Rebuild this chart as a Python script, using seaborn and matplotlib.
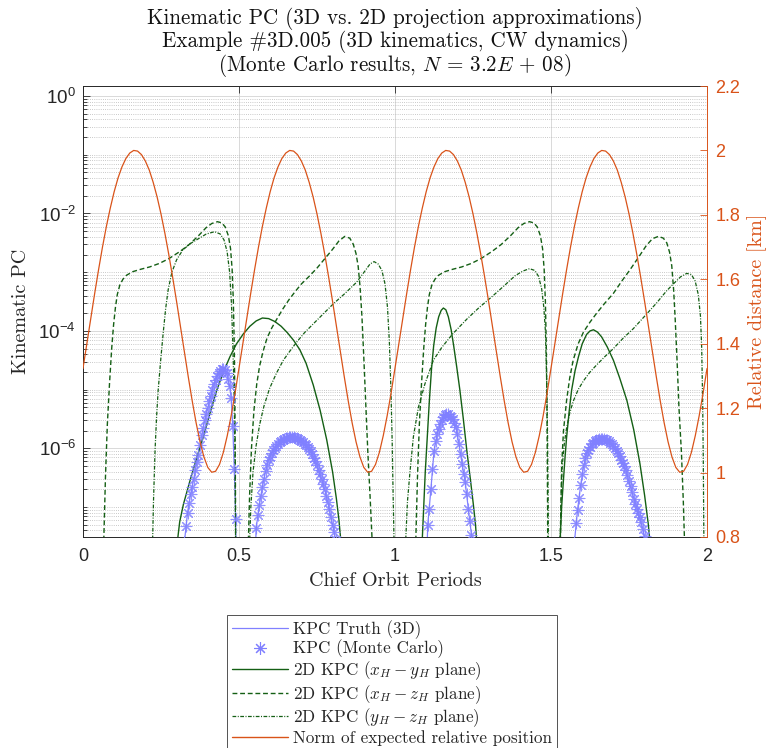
import numpy as np
import pandas as pd
import matplotlib
matplotlib.use("Agg")
import matplotlib.pyplot as plt
import seaborn as sns
from matplotlib.lines import Line2D
from matplotlib.ticker import FixedLocator, FuncFormatter, LogLocator, NullFormatter

# ---------------------------------------------------------------- data
# 2D KPC, x_H - y_H plane (solid), log10 values per active window
xy_t = [
    [0.296, 0.300, 0.310, 0.322, 0.343, 0.365, 0.386, 0.407, 0.428, 0.450, 0.471, 0.492, 0.514, 0.535,
     0.555, 0.575, 0.595, 0.615, 0.635, 0.655, 0.675, 0.695, 0.715, 0.738, 0.760, 0.781, 0.800, 0.812,
     0.820, 0.826, 0.830],
    [1.084, 1.087, 1.092, 1.097, 1.103, 1.110, 1.117, 1.124, 1.132, 1.140, 1.148, 1.155, 1.163, 1.171,
     1.180, 1.188, 1.198, 1.208, 1.219, 1.230, 1.241, 1.251, 1.258, 1.262, 1.266],
    [1.526, 1.529, 1.534, 1.539, 1.545, 1.550, 1.558, 1.566, 1.577, 1.588, 1.600, 1.614, 1.625, 1.636,
     1.649, 1.662, 1.680, 1.700, 1.720, 1.743, 1.765, 1.785, 1.800, 1.812, 1.817, 1.822],
]
xy_log = [
    [-9.0, -7.7, -7.25, -6.95, -6.55, -6.15, -5.80, -5.40, -5.02, -4.70, -4.44, -4.22, -4.05, -3.92,
     -3.83, -3.78, -3.79, -3.84, -3.92, -4.03, -4.16, -4.32, -4.55, -4.92, -5.35, -5.85, -6.4, -6.85,
     -7.2, -7.55, -9.0],
    [-9.0, -7.6, -7.0, -6.4, -5.85, -5.2, -4.65, -4.25, -3.95, -3.76, -3.65, -3.61, -3.64, -3.76,
     -3.98, -4.25, -4.62, -5.01, -5.5, -6.03, -6.5, -6.95, -7.3, -7.6, -9.0],
    [-9.0, -7.6, -7.0, -6.6, -6.15, -5.81, -5.38, -5.01, -4.68, -4.44, -4.22, -4.06, -4.00, -3.98,
     -4.02, -4.10, -4.27, -4.50, -4.80, -5.18, -5.68, -6.26, -6.8, -7.3, -7.6, -9.0],
]

# 2D KPC, x_H - z_H plane (dashed)
xz_t = [
    [0.064, 0.067, 0.072, 0.078, 0.085, 0.092, 0.098, 0.104, 0.110, 0.118, 0.128, 0.140, 0.160, 0.185,
     0.214, 0.245, 0.275, 0.310, 0.340, 0.370, 0.395, 0.413, 0.431, 0.445, 0.456, 0.466, 0.473, 0.478,
     0.482, 0.485, 0.487, 0.489, 0.490],
    [0.527, 0.530, 0.534, 0.540, 0.548, 0.557, 0.566, 0.577, 0.590, 0.605, 0.620, 0.640, 0.660, 0.680,
     0.700, 0.725, 0.750, 0.775, 0.800, 0.820, 0.839, 0.855, 0.866, 0.875, 0.882, 0.888, 0.894, 0.900,
     0.906, 0.913, 0.920, 0.927, 0.930],
    [1.064, 1.067, 1.072, 1.078, 1.085, 1.092, 1.098, 1.104, 1.110, 1.118, 1.128, 1.140, 1.160, 1.185,
     1.214, 1.245, 1.275, 1.310, 1.340, 1.370, 1.395, 1.413, 1.431, 1.445, 1.456, 1.466, 1.473, 1.478,
     1.482, 1.485, 1.487, 1.489, 1.490],
    [1.527, 1.530, 1.534, 1.540, 1.550, 1.560, 1.571, 1.587, 1.604, 1.625, 1.646, 1.672, 1.700, 1.727,
     1.753, 1.780, 1.805, 1.825, 1.844, 1.860, 1.871, 1.880, 1.887, 1.893, 1.898, 1.904, 1.910, 1.918,
     1.924, 1.928, 1.931],
]
xz_log = [
    [-9.0, -7.5, -6.5, -5.6, -4.9, -4.3, -3.9, -3.6, -3.38, -3.22, -3.12, -3.05, -2.99, -2.95,
     -2.91, -2.85, -2.77, -2.65, -2.53, -2.38, -2.24, -2.17, -2.14, -2.16, -2.23, -2.38, -2.6, -2.95,
     -3.5, -4.3, -5.3, -7.0, -9.0],
    [-9.0, -7.6, -6.8, -6.0, -5.35, -4.9, -4.6, -4.35, -4.12, -3.95, -3.81, -3.63, -3.47, -3.33,
     -3.20, -3.07, -2.93, -2.77, -2.61, -2.47, -2.39, -2.42, -2.52, -2.68, -2.90, -3.25, -3.75, -4.45,
     -5.2, -6.07, -6.8, -7.6, -9.0],
    [-9.0, -7.5, -6.5, -5.6, -4.9, -4.3, -3.9, -3.6, -3.38, -3.22, -3.12, -3.05, -2.99, -2.95,
     -2.91, -2.85, -2.77, -2.65, -2.53, -2.38, -2.24, -2.17, -2.14, -2.16, -2.23, -2.38, -2.6, -2.95,
     -3.5, -4.3, -5.3, -7.0, -9.0],
    [-9.0, -7.6, -6.3, -5.7, -5.18, -4.8, -4.5, -4.22, -4.02, -3.85, -3.70, -3.53, -3.36, -3.15,
     -2.96, -2.75, -2.55, -2.43, -2.39, -2.42, -2.50, -2.66, -2.89, -3.3, -3.8, -4.5, -5.3, -6.07,
     -6.9, -7.6, -9.0],
]

# 2D KPC, y_H - z_H plane (dash-dot)
yz_t = [
    [0.220, 0.223, 0.226, 0.231, 0.236, 0.241, 0.249, 0.257, 0.265, 0.273, 0.285, 0.300, 0.320, 0.345,
     0.370, 0.395, 0.422, 0.440, 0.452, 0.462, 0.470, 0.476, 0.480, 0.484, 0.487, 0.489, 0.490],
    [0.531, 0.534, 0.538, 0.545, 0.555, 0.566, 0.580, 0.598, 0.620, 0.642, 0.665, 0.685, 0.710, 0.738,
     0.770, 0.802, 0.840, 0.877, 0.905, 0.920, 0.933, 0.946, 0.958, 0.968, 0.976, 0.982, 0.987, 0.991,
     0.994, 0.997, 0.999],
    [1.030, 1.034, 1.040, 1.048, 1.059, 1.075, 1.096, 1.123, 1.150, 1.185, 1.230, 1.270, 1.310, 1.350,
     1.385, 1.410, 1.431, 1.448, 1.460, 1.470, 1.477, 1.482, 1.486, 1.489, 1.491, 1.493],
    [1.526, 1.529, 1.532, 1.536, 1.543, 1.550, 1.560, 1.571, 1.587, 1.604, 1.625, 1.646, 1.672, 1.700,
     1.730, 1.764, 1.800, 1.839, 1.870, 1.892, 1.915, 1.935, 1.950, 1.962, 1.972, 1.979, 1.983, 1.986,
     1.988, 1.990, 1.992],
]
yz_log = [
    [-9.0, -7.6, -6.9, -6.03, -5.45, -5.01, -4.5, -4.04, -3.62, -3.30, -3.0, -2.79, -2.62, -2.51,
     -2.43, -2.35, -2.31, -2.35, -2.45, -2.65, -3.0, -3.55, -4.2, -5.0, -6.0, -7.5, -9.0],
    [-9.0, -7.6, -7.0, -6.4, -5.95, -5.6, -5.28, -4.98, -4.72, -4.50, -4.33, -4.19, -4.03, -3.88,
     -3.71, -3.54, -3.36, -3.17, -2.97, -2.86, -2.82, -2.86, -2.97, -3.2, -3.6, -4.2, -5.0, -5.9,
     -6.8, -7.6, -9.0],
    [-9.0, -7.6, -6.9, -6.4, -5.8, -5.3, -4.9, -4.5, -4.28, -4.05, -3.8, -3.6, -3.42, -3.23,
     -3.06, -2.98, -2.94, -2.97, -3.07, -3.28, -3.6, -4.0, -4.8, -5.8, -7.0, -9.0],
    [-9.0, -7.6, -6.9, -6.3, -5.9, -5.65, -5.4, -5.2, -5.0, -4.85, -4.7, -4.58, -4.44, -4.3,
     -4.13, -3.96, -3.75, -3.52, -3.32, -3.2, -3.08, -3.02, -3.04, -3.15, -3.38, -3.75, -4.3, -5.2,
     -6.2, -7.6, -9.0],
]

# Truth 3D KPC (thin line)
truth_t = [
    [0.318, 0.325, 0.335, 0.345, 0.355, 0.365, 0.375, 0.385, 0.395, 0.405, 0.415, 0.425, 0.435, 0.445,
     0.450, 0.455, 0.460, 0.465, 0.470, 0.475, 0.480, 0.485, 0.488, 0.490, 0.491],
    [0.548, 0.555, 0.565, 0.575, 0.585, 0.595, 0.610, 0.630, 0.650, 0.670, 0.690, 0.710, 0.730, 0.750,
     0.770, 0.785, 0.800, 0.810, 0.818],
    [1.098, 1.105, 1.115, 1.125, 1.135, 1.145, 1.155, 1.165, 1.175, 1.185, 1.195, 1.205, 1.215, 1.225,
     1.235, 1.245, 1.252],
    [1.570, 1.575, 1.585, 1.595, 1.605, 1.615, 1.630, 1.650, 1.665, 1.680, 1.700, 1.720, 1.740, 1.760,
     1.780, 1.795, 1.805, 1.812],
]
truth_log = [
    [-8.2, -7.6, -7.10, -6.78, -6.52, -6.24, -5.95, -5.65, -5.42, -5.20, -5.00, -4.84, -4.72, -4.65,
     -4.64, -4.66, -4.72, -4.82, -4.93, -5.15, -5.62, -6.35, -6.9, -7.5, -9.0],
    [-8.5, -7.36, -6.97, -6.66, -6.39, -6.20, -6.03, -5.89, -5.83, -5.81, -5.84, -5.92, -6.05, -6.28,
     -6.60, -6.92, -7.30, -7.56, -8.5],
    [-8.5, -7.3, -6.70, -6.05, -5.76, -5.59, -5.47, -5.41, -5.44, -5.50, -5.63, -5.92, -6.26, -6.57,
     -7.03, -7.47, -8.5],
    [-8.5, -7.6, -7.05, -6.63, -6.29, -6.08, -5.92, -5.85, -5.84, -5.86, -5.96, -6.13, -6.37, -6.75,
     -7.10, -7.38, -7.65, -8.5],
]

# Monte Carlo KPC estimates, sampled every 0.005 orbit periods in each window
mc_window = [(0.325, 0.490), (0.555, 0.810), (1.105, 1.250), (1.575, 1.805)]
mc_log = [
    [-7.6, -7.33, -7.10, -6.93, -6.78, -6.66, -6.52, -6.36, -6.24, -6.12, -5.95, -5.78, -5.65, -5.52,
     -5.42, -5.31, -5.20, -5.10, -5.00, -4.91, -4.84, -4.77, -4.72, -4.68, -4.65, -4.64, -4.66, -4.72,
     -4.82, -4.93, -5.15, -5.62, -6.35, -7.2],
    [-7.36, -7.14, -6.97, -6.81, -6.66, -6.52, -6.39, -6.29, -6.20, -6.14, -6.08, -6.03, -5.99, -5.96,
     -5.92, -5.89, -5.87, -5.86, -5.84, -5.83, -5.82, -5.81, -5.81, -5.81, -5.81, -5.82, -5.83, -5.84,
     -5.85, -5.87, -5.89, -5.92, -5.95, -5.98, -6.01, -6.05, -6.10, -6.16, -6.22, -6.28, -6.36, -6.44,
     -6.52, -6.60, -6.70, -6.81, -6.92, -7.04, -7.17, -7.30, -7.42, -7.56],
    [-7.3, -7.03, -6.70, -6.35, -6.05, -5.88, -5.76, -5.67, -5.59, -5.52, -5.47, -5.43, -5.41, -5.42,
     -5.44, -5.47, -5.50, -5.56, -5.63, -5.76, -5.92, -6.09, -6.26, -6.43, -6.57, -6.78, -7.03, -7.23,
     -7.47, -7.8],
    [-7.6, -7.27, -7.05, -6.85, -6.63, -6.43, -6.29, -6.17, -6.08, -6.02, -5.97, -5.92, -5.90, -5.88,
     -5.86, -5.85, -5.84, -5.84, -5.84, -5.84, -5.85, -5.86, -5.88, -5.90, -5.92, -5.96, -6.00, -6.04,
     -6.08, -6.13, -6.19, -6.25, -6.30, -6.37, -6.46, -6.55, -6.64, -6.75, -6.86, -6.95, -7.03, -7.10,
     -7.17, -7.26, -7.38, -7.50, -7.65],
]

# Norm of the expected relative position [km], every 0.0125 orbit periods over 0..2
rel_dist = [
    1.323, 1.401, 1.479, 1.556, 1.630, 1.700, 1.764, 1.821, 1.872, 1.915, 1.949, 1.975, 1.992, 2.000,
    1.998, 1.987, 1.967, 1.939, 1.901, 1.856, 1.803, 1.743, 1.677, 1.606, 1.531, 1.453, 1.375, 1.297,
    1.223, 1.155, 1.096, 1.049, 1.016, 1.001, 1.004, 1.025, 1.063, 1.115, 1.177, 1.247,
    1.323, 1.401, 1.479, 1.556, 1.630, 1.700, 1.764, 1.821, 1.872, 1.915, 1.949, 1.975, 1.992, 2.000,
    1.998, 1.987, 1.967, 1.939, 1.901, 1.856, 1.803, 1.743, 1.677, 1.606, 1.531, 1.453, 1.375, 1.297,
    1.223, 1.155, 1.096, 1.049, 1.016, 1.001, 1.004, 1.025, 1.063, 1.115, 1.177, 1.247,
    1.323, 1.401, 1.479, 1.556, 1.630, 1.700, 1.764, 1.821, 1.872, 1.915, 1.949, 1.975, 1.992, 2.000,
    1.998, 1.987, 1.967, 1.939, 1.901, 1.856, 1.803, 1.743, 1.677, 1.606, 1.531, 1.453, 1.375, 1.297,
    1.223, 1.155, 1.096, 1.049, 1.016, 1.001, 1.004, 1.025, 1.063, 1.115, 1.177, 1.247,
    1.323, 1.401, 1.479, 1.556, 1.630, 1.700, 1.764, 1.821, 1.872, 1.915, 1.949, 1.975, 1.992, 2.000,
    1.998, 1.987, 1.967, 1.939, 1.901, 1.856, 1.803, 1.743, 1.677, 1.606, 1.531, 1.453, 1.375, 1.297,
    1.223, 1.155, 1.096, 1.049, 1.016, 1.001, 1.004, 1.025, 1.063, 1.115, 1.177, 1.247,
    1.323,
]

x_ticks = [0, 0.5, 1, 1.5, 2]
x_tick_labels = ["0", "0.5", "1", "1.5", "2"]
y_ticks = [1e-6, 1e-4, 1e-2, 1e0]
r_ticks = [0.8, 1.0, 1.2, 1.4, 1.6, 1.8, 2.0, 2.2]
r_tick_labels = ["0.8", "1", "1.2", "1.4", "1.6", "1.8", "2", "2.2"]

title_lines = [
    "Kinematic PC (3D vs. 2D projection approximations)",
    "Example #3D.005 (3D kinematics, CW dynamics)",
    r"(Monte Carlo results, $N\,=\,3.2E\,+\,08$)",
]
legend_labels = [
    "KPC Truth (3D)",
    "KPC (Monte Carlo)",
    r"2D KPC ($x_H - y_H$ plane)",
    r"2D KPC ($x_H - z_H$ plane)",
    r"2D KPC ($y_H - z_H$ plane)",
    "Norm of expected relative position",
]

# ---------------------------------------------------------------- style
sns.set_style("white")
plt.rcParams.update({
    "font.family": ["Liberation Sans", "DejaVu Sans"],
    "mathtext.fontset": "cm",
    "axes.unicode_minus": True,
})

ORANGE = "#D95319"
GREEN = "#145f14"
BLUE = "#8080FF"
AXCOL = "#262626"
CM = "cmr10"


def segments_frame(t_lists, log_lists):
    rows = []
    for k, (ts, ls) in enumerate(zip(t_lists, log_lists)):
        for t, l in zip(ts, ls):
            rows.append((k, t, 10.0 ** l))
    return pd.DataFrame(rows, columns=["seg", "t", "kpc"])


fig = plt.figure(figsize=(7.69, 7.48), dpi=100)
ax = fig.add_axes([0.1079, 0.2821, 0.8115, 0.6029])
ax.set_yscale("log")
ax2 = ax.twinx()

# grid
ax.set_axisbelow(True)
ax.grid(True, which="major", axis="both", color="#d9d9d9", linewidth=0.7, linestyle="-")
ax.grid(True, which="minor", axis="y", color="#b8b8b8", linewidth=0.6, linestyle=(0, (1, 1.6)))

# KPC curves
sns.lineplot(data=segments_frame(truth_t, truth_log), x="t", y="kpc", units="seg",
             estimator=None, sort=False, color=BLUE, linewidth=0.9, ax=ax, legend=False)
for (t0, t1), vals in zip(mc_window, mc_log):
    ts = np.linspace(t0, t1, len(vals))
    sns.scatterplot(x=ts, y=10.0 ** np.array(vals), marker=(8, 2, 0), s=60, color=BLUE,
                    linewidth=0.8, alpha=0.85, ax=ax, legend=False, zorder=3)
sns.lineplot(data=segments_frame(xy_t, xy_log), x="t", y="kpc", units="seg",
             estimator=None, sort=False, color=GREEN, linewidth=1.0, ax=ax, legend=False)
sns.lineplot(data=segments_frame(xz_t, xz_log), x="t", y="kpc", units="seg",
             estimator=None, sort=False, color=GREEN, linewidth=1.0, linestyle=(0, (3.5, 2.0)),
             ax=ax, legend=False)
sns.lineplot(data=segments_frame(yz_t, yz_log), x="t", y="kpc", units="seg",
             estimator=None, sort=False, color=GREEN, linewidth=0.9,
             linestyle=(0, (3.0, 1.2, 0.8, 1.2)), ax=ax, legend=False)

# relative distance on the right axis
t_dist = np.linspace(0, 2, len(rel_dist))
sns.lineplot(x=t_dist, y=rel_dist, color=ORANGE, linewidth=0.9, ax=ax2, legend=False)

# axes limits and ticks
ax.set_xlim(0, 2)
ax.set_ylim(3.1e-8, 1.48)
ax.set_xticks(x_ticks)
ax.set_xticklabels(x_tick_labels)
ax.yaxis.set_major_locator(FixedLocator(y_ticks))
ax.yaxis.set_major_formatter(FuncFormatter(lambda v, p: r"$\mathregular{10^{%d}}$" % round(np.log10(v))))
ax.yaxis.set_minor_locator(LogLocator(base=10, subs=np.arange(1, 10), numticks=100))
ax.yaxis.set_minor_formatter(NullFormatter())
ax.tick_params(axis="both", which="both", direction="in", colors=AXCOL, labelsize=13, width=0.6)
ax.tick_params(axis="both", which="major", length=5)
ax.tick_params(axis="both", which="minor", length=3)
ax.tick_params(axis="x", top=True, pad=8)
ax.tick_params(axis="y", right=False, pad=5)
ax.tick_params(axis="y", which="major", labelsize=13.5)

ax2.set_ylim(0.8, 2.2)
ax2.set_yticks(r_ticks)
ax2.set_yticklabels(r_tick_labels)
ax2.tick_params(axis="y", direction="in", colors=ORANGE, labelsize=13, length=5, width=0.6, pad=6)
ax2.set_xlim(0, 2)

for name in ("left", "top", "bottom"):
    ax.spines[name].set_color(AXCOL)
    ax.spines[name].set_linewidth(0.7)
    ax2.spines[name].set_visible(False)
ax.spines["right"].set_visible(False)
ax2.spines["right"].set_color(ORANGE)
ax2.spines["right"].set_linewidth(0.7)

ax.set_xlabel("Chief Orbit Periods", fontsize=14.5, family=CM, color=AXCOL, labelpad=5)
ax.set_ylabel("Kinematic PC", fontsize=14.5, family=CM, color=AXCOL, labelpad=6)
ax2.set_ylabel("Relative distance [km]", fontsize=14.5, family=CM, color=ORANGE, labelpad=5)

# title block
for line, yb in zip(title_lines, [0.9679, 0.9365, 0.9051]):
    fig.text(0.5137, yb, line, ha="center", va="baseline", fontsize=15.2, family=CM, color="#111111")

# legend below the axes
handles = [
    Line2D([], [], color=BLUE, linewidth=0.9),
    Line2D([], [], color=BLUE, marker=(8, 2, 0), markersize=9, linestyle="none", markeredgewidth=0.8),
    Line2D([], [], color=GREEN, linewidth=1.0),
    Line2D([], [], color=GREEN, linewidth=1.0, linestyle=(0, (3.5, 2.0))),
    Line2D([], [], color=GREEN, linewidth=0.9, linestyle=(0, (3.0, 1.2, 0.8, 1.2))),
    Line2D([], [], color=ORANGE, linewidth=1.0),
]
leg = fig.legend(handles, legend_labels, loc="upper center", bbox_to_anchor=(0.5098, 0.1778),
                 prop={"family": CM, "size": 12.3}, frameon=True, fancybox=False,
                 edgecolor=AXCOL, handlelength=3.3, handletextpad=0.3, labelspacing=0.05,
                 borderpad=0.3, borderaxespad=0.0)
leg.get_frame().set_linewidth(0.7)

fig.savefig("out.png", dpi=100)
